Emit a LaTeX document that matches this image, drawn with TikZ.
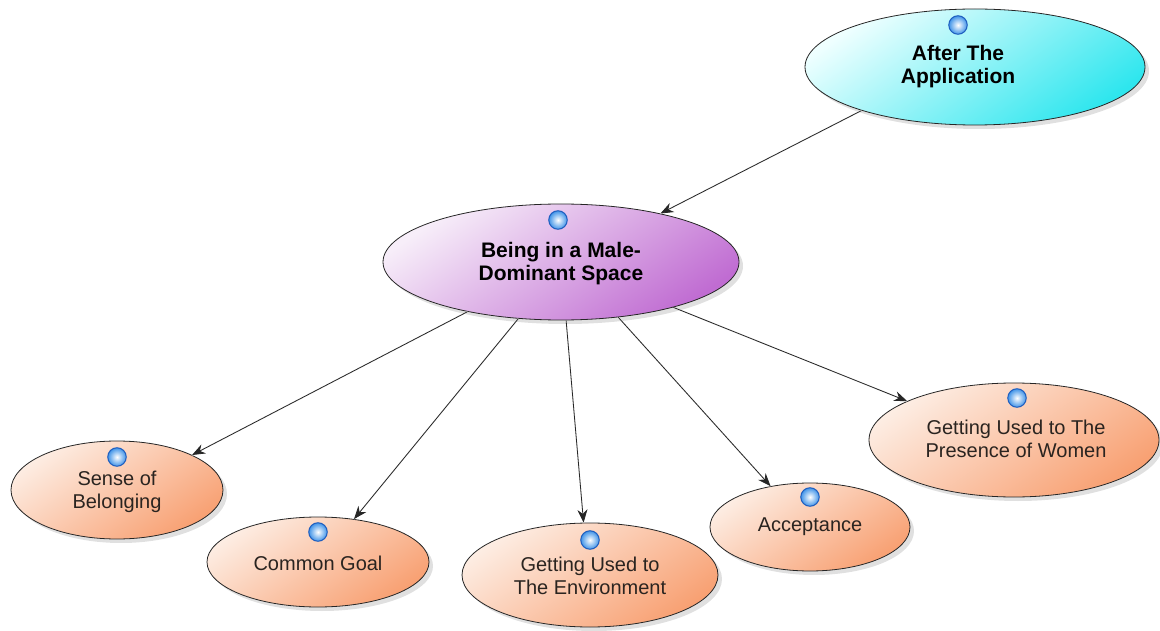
\documentclass[tikz,border=0pt]{standalone}
\usepackage{fontspec}
\setmainfont{Liberation Sans}
\usetikzlibrary{shapes.geometric,arrows.meta,shadows}

\definecolor{cyanlight}{HTML}{EFFFFF}
\definecolor{cyandark}{HTML}{2EE6EE}
\definecolor{purplelight}{HTML}{F7EEF9}
\definecolor{purpledark}{HTML}{C06CD2}
\definecolor{orangelight}{HTML}{FDEDE3}
\definecolor{orangedark}{HTML}{F8A072}
\definecolor{iconrim}{HTML}{1E5DBE}
\definecolor{iconblue}{HTML}{3F93E8}
\definecolor{textdark}{HTML}{2A2420}

\tikzset{
  bubble/.style={ellipse, draw=black!85, line width=0.8pt, inner sep=0pt,
    drop shadow={shadow xshift=4pt, shadow yshift=-4pt, opacity=0.12, fill=black}},
  topic/.style={bubble, top color=cyanlight, bottom color=cyandark, shading angle=35},
  theme/.style={bubble, top color=purplelight, bottom color=purpledark, shading angle=35},
  subtheme/.style={bubble, top color=orangelight, bottom color=orangedark, shading angle=35},
  headtext/.style={align=center, font=\fontsize{21}{23}\selectfont\bfseries, text=black, inner sep=0pt},
  leaftext/.style={align=center, font=\fontsize{20}{23}\selectfont, text=textdark, inner sep=0pt},
  icon/.style={circle, minimum size=18.5pt, inner sep=0pt, draw=iconrim, line width=1pt,
    inner color=white, outer color=iconblue},
  link/.style={draw=black!85, line width=0.8pt, -{Stealth[length=13pt,width=10pt]}},
  linkshade/.style={draw=black!7, line width=1.2pt}
}

\begin{document}
\begin{tikzpicture}[x=1pt,y=-1pt]
\useasboundingbox[fill=white] (0,0) rectangle (1160,631);

% bubbles
\node[topic, minimum width=340pt, minimum height=116pt] (after) at (975,67) {};
\node[theme, minimum width=356pt, minimum height=116pt] (male) at (561,262) {};
\node[subtheme, minimum width=212pt, minimum height=98pt] (sense) at (117,490) {};
\node[subtheme, minimum width=222pt, minimum height=90pt] (common) at (318,562) {};
\node[subtheme, minimum width=256pt, minimum height=104pt] (env) at (590,575) {};
\node[subtheme, minimum width=200pt, minimum height=88pt] (accept) at (810,527) {};
\node[subtheme, minimum width=290pt, minimum height=114pt] (presence) at (1014,440) {};

% labels
\node[headtext] (aftertext) at (958,66.5) {After The\\Application};
\node[headtext] (maletext) at (561,263.5) {Being in a Male-\\Dominant Space};
\node[leaftext] (sensetext) at (117,491.5) {Sense of\\Belonging};
\node[leaftext] (commontext) at (318,563) {Common Goal};
\node[leaftext] (envtext) at (590,576) {Getting Used to\\The Environment};
\node[leaftext] (accepttext) at (810,527) {Acceptance};
\node[leaftext] (presencetext) at (1016,439) {Getting Used to The\\Presence of Women};

% topic icons
\node[icon] (aftericon) at (958,25) {};
\node[icon] (maleicon) at (558,220) {};
\node[icon] (senseicon) at (117,457) {};
\node[icon] (commonicon) at (318,532) {};
\node[icon] (envicon) at (590,540) {};
\node[icon] (accepticon) at (810,497) {};
\node[icon] (presenceicon) at (1017,398) {};

% faint connector shadows
\begin{scope}[shift={(4,4)}]
\draw[linkshade] (after.-159) -- (male.26);
\draw[linkshade] (male.-152) -- (sense.25);
\draw[linkshade] (male.-127) -- (common.50);
\draw[linkshade] (male.-85) -- (env.97);
\draw[linkshade] (male.-44) -- (accept.134);
\draw[linkshade] (male.-22) -- (presence.160);
\end{scope}

% connectors
\draw[link] (after.-159) -- (male.26);
\draw[link] (male.-152) -- (sense.25);
\draw[link] (male.-127) -- (common.50);
\draw[link] (male.-85) -- (env.97);
\draw[link] (male.-44) -- (accept.134);
\draw[link] (male.-22) -- (presence.160);
\end{tikzpicture}
\end{document}
